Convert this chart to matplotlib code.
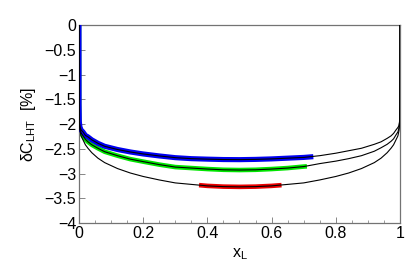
import numpy as np
import matplotlib
matplotlib.use("Agg")
import matplotlib.pyplot as plt
from matplotlib.ticker import MultipleLocator

# curves (x_L, deltaC_LHT in %)
x_full = [0, 0.0003, 0.001, 0.003, 0.0065, 0.0125, 0.02, 0.028, 0.04, 0.059, 0.08, 0.12,
          0.16, 0.2, 0.25, 0.3, 0.35, 0.4, 0.45, 0.5,
          0.55, 0.6, 0.65, 0.7, 0.75, 0.8, 0.84, 0.88, 0.92, 0.941, 0.96, 0.972, 0.98,
          0.9875, 0.9935, 0.997, 0.999, 0.9997, 1]
y_top = [0, -1.6, -1.95, -2.06, -2.12, -2.16, -2.23, -2.26, -2.32, -2.39, -2.45, -2.515,
         -2.565, -2.605, -2.645, -2.68, -2.70, -2.71, -2.718, -2.72,
         -2.715, -2.705, -2.69, -2.675, -2.64, -2.59, -2.54, -2.49, -2.41, -2.36, -2.29, -2.24, -2.19,
         -2.12, -2.07, -2.03, -1.93, -1.6, 0]
y_mid = [0, -1.6, -1.95, -2.10, -2.18, -2.24, -2.31, -2.36, -2.42, -2.49, -2.56, -2.64,
         -2.71, -2.76, -2.82, -2.87, -2.89, -2.91, -2.925, -2.93,
         -2.925, -2.91, -2.89, -2.86, -2.80, -2.75, -2.70, -2.64, -2.55, -2.48, -2.41, -2.35, -2.30,
         -2.22, -2.16, -2.08, -1.95, -1.6, 0]
y_bot = [0, -1.6, -1.95, -2.13, -2.24, -2.32, -2.42, -2.49, -2.58, -2.69, -2.78, -2.90,
         -2.99, -3.06, -3.13, -3.19, -3.22, -3.25, -3.265, -3.27,
         -3.265, -3.25, -3.22, -3.19, -3.13, -3.06, -2.99, -2.90, -2.78, -2.69, -2.58, -2.49, -2.42,
         -2.32, -2.24, -2.13, -1.95, -1.6, 0]

# highlighted ranges
x_blue = [0, 0.0003, 0.001, 0.003, 0.0065, 0.0125, 0.02, 0.028, 0.04, 0.059, 0.08, 0.12,
          0.16, 0.2, 0.25, 0.3, 0.35, 0.4, 0.45, 0.5, 0.55, 0.6, 0.65, 0.7, 0.73]
y_blue = [0, -1.6, -1.95, -2.06, -2.12, -2.16, -2.23, -2.26, -2.32, -2.39, -2.45, -2.515,
          -2.565, -2.605, -2.645, -2.68, -2.70, -2.71, -2.718, -2.72, -2.715, -2.705, -2.69, -2.675, -2.66]
x_green = [0, 0.0003, 0.001, 0.003, 0.0065, 0.0125, 0.02, 0.028, 0.04, 0.059, 0.08, 0.12,
           0.16, 0.2, 0.25, 0.3, 0.35, 0.4, 0.45, 0.5, 0.55, 0.6, 0.65, 0.7, 0.71]
y_green = [0, -1.6, -1.95, -2.10, -2.18, -2.24, -2.31, -2.36, -2.42, -2.49, -2.56, -2.64,
           -2.71, -2.76, -2.82, -2.87, -2.89, -2.91, -2.925, -2.93, -2.925, -2.91, -2.89, -2.86, -2.855]
x_red = [0.374, 0.4, 0.45, 0.5, 0.55, 0.6, 0.631]
y_red = [-3.235, -3.25, -3.265, -3.27, -3.265, -3.25, -3.235]

xticks = [0, 0.2, 0.4, 0.6, 0.8, 1]
xtick_labels = ["0", "0.2", "0.4", "0.6", "0.8", "1"]
yticks = [0, -0.5, -1, -1.5, -2, -2.5, -3, -3.5, -4]
ytick_labels = ["0", "\u22120.5", "\u22121", "\u22121.5", "\u22122", "\u22122.5", "\u22123", "\u22123.5", "\u22124"]

plt.rcParams['font.family'] = ['Liberation Sans', 'DejaVu Sans']

fig = plt.figure(figsize=(4.17, 2.69), dpi=100)
ax = fig.add_axes([0.1894, 0.171, 0.7698, 0.736])

ax.plot(x_green, y_green, color=(0.0, 0.9, 0.0), lw=3.3, solid_capstyle='butt', zorder=2)
ax.plot(x_blue, y_blue, color=(0.0, 0.0, 0.95), lw=3.7, solid_capstyle='butt', zorder=3)
ax.plot(x_red, y_red, color=(0.92, 0.0, 0.0), lw=3.3, solid_capstyle='butt', zorder=2)
for yy in (y_top, y_mid, y_bot):
    ax.plot(x_full, yy, color="black", lw=0.8, zorder=4)

ax.set_xlim(0, 1)
ax.set_ylim(-4, 0)
ax.set_xticks(xticks)
ax.set_xticklabels(xtick_labels)
ax.set_yticks(yticks)
ax.set_yticklabels(ytick_labels)
ax.xaxis.set_minor_locator(MultipleLocator(0.05))
ax.tick_params(direction='in', labelsize=11.5, length=4, width=0.6, color='0.45', pad=2)
ax.tick_params(which='minor', direction='in', length=2, width=0.5, color='0.45')
for s in ax.spines.values():
    s.set_color('0.45')
    s.set_linewidth(0.9)

ax.set_xlabel("x$_\\mathregular{L}$", fontsize=11.5, labelpad=4)
ax.set_ylabel("\u03b4C$_\\mathregular{LHT}$  [%]", fontsize=11.5, labelpad=5)

fig.savefig("out.png", dpi=100)
